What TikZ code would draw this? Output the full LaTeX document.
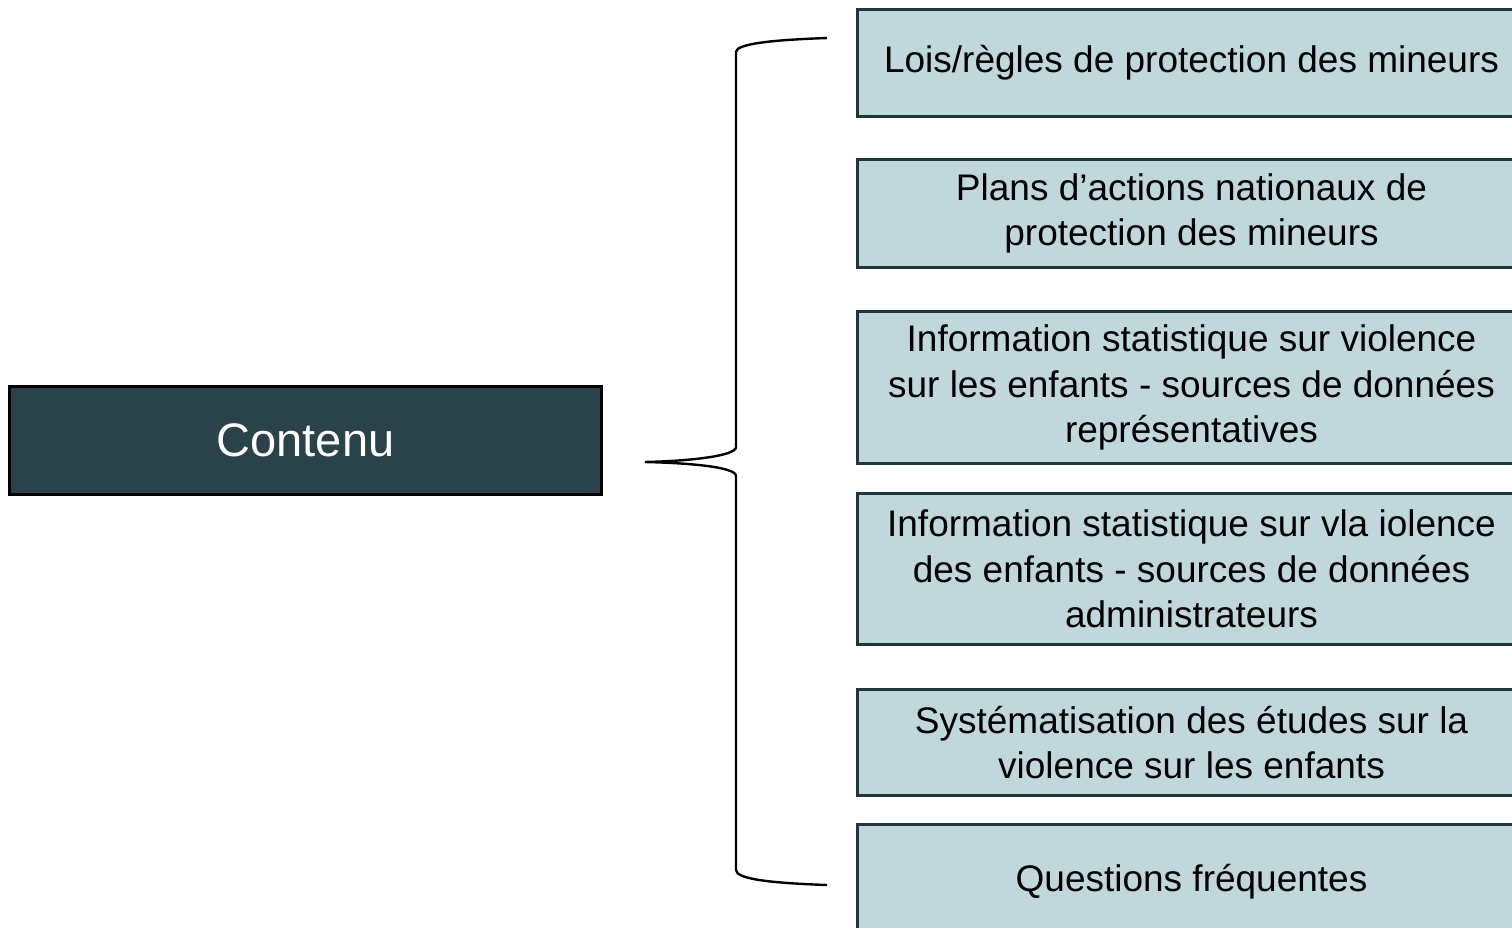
\documentclass[tikz,border=0pt]{standalone}
\usepackage{fontspec}
\setmainfont{Liberation Sans}
\definecolor{boxfill}{HTML}{C0D8DC}
\definecolor{boxline}{HTML}{1F363C}
\definecolor{mainfill}{HTML}{2A434A}
\begin{document}
\begin{tikzpicture}[x=1pt,y=-1pt,
  rbox/.style={draw=boxline, line width=3pt, fill=boxfill, anchor=north west,
    minimum width=668pt, align=center, inner sep=0pt,
    font=\fontsize{37}{45.5}\selectfont, text=black},
  mainbox/.style={draw=black, line width=3pt, fill=mainfill, anchor=north west,
    minimum width=592pt, minimum height=108pt, inner sep=0pt,
    font=\fontsize{47}{56}\selectfont, text=white},
  bracestyle/.style={draw=black, line width=2.4pt}]
\useasboundingbox (0,0) rectangle (1512,927);
\clip (0,0) rectangle (1512,927);
\node[mainbox] (main) at (8,385) {Contenu};
\node[rbox, minimum height=107pt] (b1) at (856,8) {Lois/règles de protection des mineurs};
\node[rbox, minimum height=108pt] (b2) at (856,158) {Plans d’actions nationaux de\\protection des mineurs};
\node[rbox, minimum height=152pt] (b3) at (856,310) {Information statistique sur violence\\sur les enfants - sources de données\\représentatives};
\node[rbox, minimum height=151pt] (b4) at (856,492) {Information statistique sur vla iolence\\des enfants - sources de données\\administrateurs};
\node[rbox, minimum height=106pt] (b5) at (856,688) {Systématisation des études sur la\\violence sur les enfants};
\node[rbox, minimum height=114pt] (b6) at (856,823) {Questions fréquentes};
\coordinate (btop) at (827,38);
\coordinate (bbot) at (827,885);
\coordinate (tip) at (645,462);
\draw[bracestyle] (btop) .. controls (770,40) and (736,44) .. (736,52)
  -- (736,447) .. controls (736,456) and (690,461) .. (tip)
  .. controls (690,463) and (736,467) .. (736,476)
  -- (736,870) .. controls (736,879) and (770,883) .. (bbot);
\end{tikzpicture}
\end{document}
